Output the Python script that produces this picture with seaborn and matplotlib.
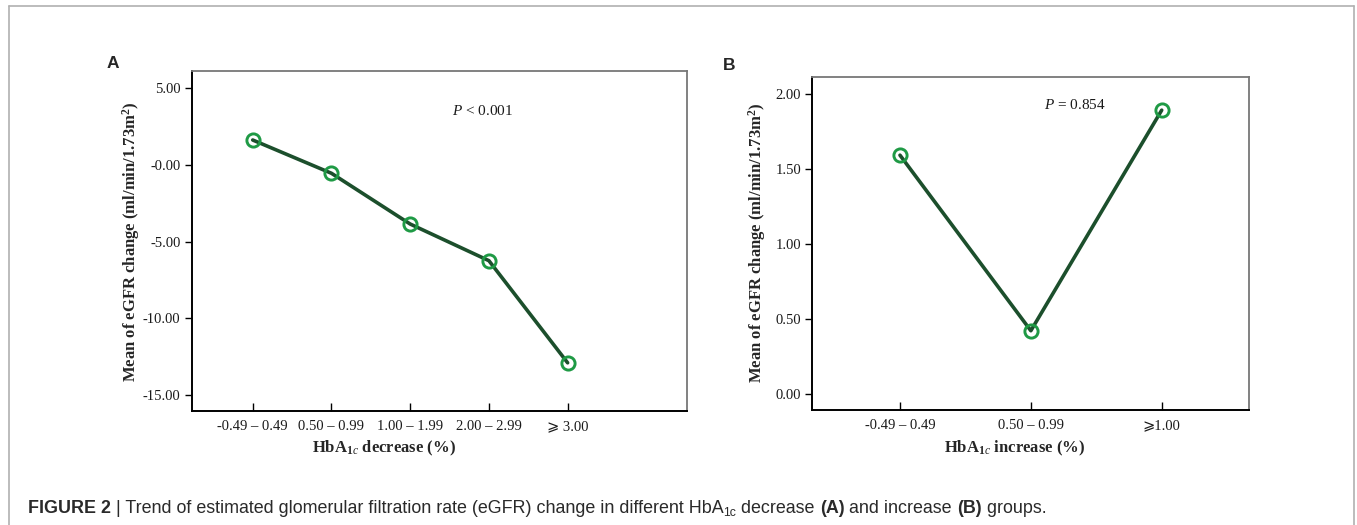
import numpy as np
import pandas as pd
import matplotlib
matplotlib.use("Agg")
import matplotlib.pyplot as plt
import seaborn as sns

# ---- data ----
cats_a = ["-0.49 \u2013 0.49", "0.50 \u2013 0.99", "1.00 \u2013 1.99", "2.00 \u2013 2.99", "\u2a7e 3.00"]
vals_a = [1.63, -0.54, -3.85, -6.24, -12.9]
yticks_a = [5.0, 0.0, -5.0, -10.0, -15.0]
ytick_labels_a = ["5.00", "-0.00", "-5.00", "-10.00", "-15.00"]

cats_b = ["-0.49 \u2013 0.49", "0.50 \u2013 0.99", "\u2a7e1.00"]
vals_b = [1.59, 0.42, 1.89]
yticks_b = [0.0, 0.5, 1.0, 1.5, 2.0]
ytick_labels_b = ["0.00", "0.50", "1.00", "1.50", "2.00"]

sns.set_style("white")
plt.rcParams["font.family"] = ["Liberation Serif", "DejaVu Serif", "DejaVu Sans"]
plt.rcParams["mathtext.fontset"] = "custom"
plt.rcParams["mathtext.rm"] = "Liberation Serif:bold"
plt.rcParams["mathtext.bf"] = "Liberation Serif:bold"
plt.rcParams["mathtext.it"] = "Liberation Serif:italic"

W, H = 1357, 525
fig = plt.figure(figsize=(W / 100, H / 100), dpi=100)

def px_axes(l, r, t, b):
    return fig.add_axes([l / W, 1 - b / H, (r - l) / W, (b - t) / H])

ax_a = px_axes(191.7, 687.3, 71, 410.5)
ax_b = px_axes(812.3, 1249, 76.7, 409.5)

line_c = "#1c4f2c"
mark_c = "#1f9a45"

def draw(ax, cats, vals, xlim, ylim, yt, ytl, xlabel, ptxt, pxy, xl_xy, yl_xy):
    df = pd.DataFrame({"cat": cats, "val": vals})
    sns.lineplot(data=df, x="cat", y="val", sort=False, ax=ax, color=line_c, lw=2.6,
                 marker="o", markersize=9.5, markerfacecolor="none",
                 markeredgecolor=mark_c, markeredgewidth=2.1)
    ax.set_xlim(*xlim)
    ax.set_ylim(*ylim)
    ax.set_yticks(yt)
    ax.set_yticklabels(ytl)
    ax.tick_params(axis="y", direction="out", length=5, width=1, color="black",
                   labelsize=10.5, pad=3, left=True, labelcolor="#1a1a1a")
    ax.tick_params(axis="x", direction="in", length=6, width=1, color="black",
                   labelsize=10.5, pad=7, bottom=True, labelcolor="#1a1a1a")
    for s in ["left", "bottom"]:
        ax.spines[s].set_color("black")
        ax.spines[s].set_linewidth(1.4)
    for s in ["top", "right"]:
        ax.spines[s].set_color("#777777")
        ax.spines[s].set_linewidth(1.3)
    ax.set_xlabel(xlabel, fontsize=12, fontweight="bold")
    ax.xaxis.set_label_coords(*xl_xy)
    ax.set_ylabel(r"Mean of eGFR change (ml/min/1.73m$^{2}$)", fontsize=12,
                  fontweight="bold")
    ax.yaxis.set_label_coords(*yl_xy)
    ax.text(pxy[0], pxy[1], ptxt, transform=ax.transAxes, fontsize=11,
            ha="center", va="center", color="#1a1a1a")

draw(ax_a, cats_a, vals_a, (-0.775, 5.52), (-16.01, 6.13), yticks_a, ytick_labels_a,
     r"HbA$_{1c}$ decrease (%)", r"$P$ < 0.001",
     ((482.7 - 191.7) / (687.3 - 191.7), (410.5 - 111) / (410.5 - 71)),
     (0.388, -0.084), (-0.100, 0.497))
draw(ax_b, cats_b, vals_b, (-0.67, 2.667), (-0.105, 2.113), yticks_b, ytick_labels_b,
     r"HbA$_{1c}$ increase (%)", r"$P$ = 0.854",
     ((1075 - 812.3) / (1249 - 812.3), (409.5 - 105) / (409.5 - 76.7)),
     (0.464, -0.0886), (-0.102, 0.50))

# panel letters
fig.text(107 / W, 1 - 63 / H, "A", fontsize=12.5, fontweight="bold",
         family=["Liberation Sans"], ha="left", va="center")
fig.text(723 / W, 1 - 65 / H, "B", fontsize=12.5, fontweight="bold",
         family=["Liberation Sans"], ha="left", va="center")

# outer frame
frame_c = "#b0b0b0"
fig.add_artist(plt.Line2D([9 / W, 9 / W], [0, 1 - 6 / H], transform=fig.transFigure,
                          color=frame_c, lw=1.2))
fig.add_artist(plt.Line2D([9 / W, 1354 / W], [1 - 6 / H, 1 - 6 / H], transform=fig.transFigure,
                          color=frame_c, lw=1.2))
fig.add_artist(plt.Line2D([1354 / W, 1354 / W], [0, 1 - 6 / H], transform=fig.transFigure,
                          color=frame_c, lw=1.2))

# caption built from pieces
pieces = [
    ("FIGURE 2", "bold", 12.9, 0),
    (" | Trend of estimated glomerular filtration rate (eGFR) change in different HbA", "normal", 12.9, 0),
    ("1c", "normal", 8.8, -3.5),
    (" decrease ", "normal", 12.9, 0),
    ("(A)", "bold", 12.9, 0),
    (" and increase ", "normal", 12.9, 0),
    ("(B)", "bold", 12.9, 0),
    (" groups.", "normal", 12.9, 0),
]
renderer = fig.canvas.get_renderer()
x = 28.0
base_y = 513.0
for txt, wt, fs, dy in pieces:
    t = fig.text(x / W, 1 - (base_y - dy) / H, txt, fontsize=fs, fontweight=wt,
                 family=["Liberation Sans"], ha="left", va="baseline", color="#2a2a2a")
    bb = t.get_window_extent(renderer=renderer)
    x += bb.width

fig.savefig("out.png", dpi=100)
